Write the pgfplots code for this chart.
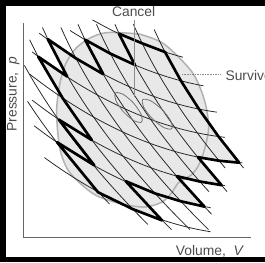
\documentclass[border=0pt]{standalone}
\usepackage{pgfplots}
\pgfplotsset{compat=1.18}
\usepackage{fontspec}
\setmainfont{Liberation Sans}
\begin{document}
\begin{tikzpicture}
\begin{axis}[
  scale only axis, width=265pt, height=260pt,
  xmin=0, xmax=265, ymin=0, ymax=260, y dir=reverse,
  hide axis, clip=true]
% grey fill: cycle and zigzag region
\addplot[fill=black!9, draw=none, smooth cycle] coordinates {
(138,34) (148,36) (165,43) (181,57) (195,73) (203,90) (208,107) (210,127) (206,147) (200,163) (193,172) (188,175) (180,180) (175,188) (165,198) (148,203) (125,200) (101,192) (85,180) (73,167) (66,150) (63,130) (62,107) (65,83) (71,63) (81,48) (95,38) (111,33)};
\addplot[fill=black!9, draw=none] coordinates {
(122.6,34) (145.9,43.7) (167.6,52) (183,79.9) (200.6,107.5) (219.7,134.3) (239.9,159.8) (220.3,157.9) (199.6,154.4) (222.7,181.7) (201.4,178.1) (179,172.9) (206,202.6) (182.6,197.3) (158,189.8) (129.2,177.8) (164.7,216) (136,205) (102.3,188.6) (62.3,139.8) (98.7,162.4) (64,117.8) (96.3,137.8) (67.9,97) (44,56.5) (72.2,75.8) (53.3,39.4) (80.7,58.1) (107.4,73.5) (89.6,39.9) (114.1,53.4) (138.2,64.5) (122.6,34)};
% cycle outline
\addplot[black!30, line width=1.5pt, smooth cycle] coordinates {
(138,34) (148,36) (165,43) (181,57) (195,73) (203,90) (208,107) (210,127) (206,147) (200,163) (193,172) (188,175) (180,180) (175,188) (165,198) (148,203) (125,200) (101,192) (85,180) (73,167) (66,150) (63,130) (62,107) (65,83) (71,63) (81,48) (95,38) (111,33)};
% isotherms
\pgfplotsset{thin line/.style={black!85, line width=0.75pt, smooth}}
\addplot[thin line] coordinates {(97,20.74) (110,27.8) (120,32.82) (130,37.5) (140,41.82) (150,45.8) (160,49.42) (170,52.7) (180,55.63) (185,56.96)};
\addplot[thin line] coordinates {(75,30.96) (80,34.12) (90,40.2) (100,45.92) (110,51.3) (120,56.32) (130,61) (140,65.32) (150,69.3) (160,72.92) (170,76.2) (180,79.13) (190,81.7) (200,83.93) (205,84.91)};
\addplot[thin line] coordinates {(45,33.61) (50,37.3) (60,44.42) (70,51.2) (80,57.62) (90,63.7) (100,69.42) (110,74.8) (120,79.82) (130,84.5) (140,88.82) (150,92.8) (160,96.42) (170,99.7) (180,102.63) (190,105.2) (200,107.43) (210,109.3) (218,110.55)};
\addplot[thin line] coordinates {(38,51.79) (50,60.8) (60,67.92) (70,74.7) (80,81.12) (90,87.2) (100,92.92) (110,98.3) (120,103.32) (130,108) (140,112.32) (150,116.3) (160,119.92) (170,123.2) (180,126.13) (190,128.7) (200,130.93) (210,132.8) (220,134.33) (226,135.07)};
\addplot[thin line] coordinates {(36,73.74) (40,76.82) (50,84.3) (60,91.42) (70,98.2) (80,104.62) (90,110.7) (100,116.42) (110,121.8) (120,126.82) (130,131.5) (140,135.82) (150,139.8) (160,143.42) (170,146.7) (180,149.63) (190,152.2) (200,154.43) (210,156.3) (220,157.83) (230,159) (243,160)};
\addplot[thin line] coordinates {(38,98.79) (50,107.8) (60,114.92) (70,121.7) (80,128.12) (90,134.2) (100,139.92) (110,145.3) (120,150.32) (130,155) (140,159.32) (150,163.3) (160,166.92) (170,170.2) (180,173.13) (190,175.7) (200,177.93) (210,179.8) (220,181.33) (226,182.07)};
\addplot[thin line] coordinates {(40,123.82) (50,131.3) (60,138.42) (70,145.2) (80,151.62) (90,157.7) (100,163.42) (110,168.8) (120,173.82) (130,178.5) (140,182.82) (150,186.8) (160,190.42) (170,193.7) (180,196.63) (190,199.2) (200,201.43) (212,203.63)};
\addplot[thin line] coordinates {(50,154.8) (60,161.92) (70,168.7) (80,175.12) (90,181.2) (100,186.92) (110,192.3) (120,197.32) (130,202) (140,206.32) (150,210.3) (160,213.92) (170,217.2) (180,220.13) (190,222.7) (200,224.93) (212,227.13)};
% adiabats
\addplot[thin line] coordinates {(157,30) (161.65,40) (166.58,50) (171.81,60) (177.32,70) (183.13,80) (189.22,90) (195.61,100) (202.28,110) (209.25,120) (216.5,130) (224.05,140) (231.88,150) (240.01,160) (244.18,165)};
\addplot[thin line] coordinates {(136.79,25) (139,30) (143.65,40) (148.58,50) (153.81,60) (159.32,70) (165.13,80) (171.22,90) (177.61,100) (184.28,110) (191.25,120) (198.5,130) (206.05,140) (213.88,150) (222.01,160) (226.2,165)};
\addplot[thin line] coordinates {(118.79,25) (121,30) (125.65,40) (130.58,50) (135.81,60) (141.32,70) (147.13,80) (153.22,90) (159.61,100) (166.28,110) (173.25,120) (180.5,130) (188.05,140) (195.88,150) (204.01,160) (212.42,170) (221.13,180) (228,188)};
\addplot[thin line] coordinates {(100.79,25) (103,30) (107.65,40) (112.58,50) (117.81,60) (123.32,70) (129.13,80) (135.22,90) (141.61,100) (148.28,110) (155.25,120) (162.5,130) (170.05,140) (177.88,150) (186.01,160) (194.42,170) (203.13,180) (210.4,188)};
\addplot[thin line] coordinates {(82.79,25) (85,30) (89.65,40) (94.58,50) (99.81,60) (105.32,70) (111.13,80) (117.22,90) (123.61,100) (130.28,110) (137.25,120) (144.5,130) (152.05,140) (159.88,150) (168.01,160) (176.42,170) (185.13,180) (194.12,190) (203.41,200) (212.98,210)};
\addplot[thin line] coordinates {(66.11,28) (71.65,40) (76.58,50) (81.81,60) (87.32,70) (93.13,80) (99.22,90) (105.61,100) (112.28,110) (119.25,120) (126.5,130) (134.05,140) (141.88,150) (150.01,160) (158.42,170) (167.13,180) (176.12,190) (185.41,200) (194.98,210) (204.85,220) (210,225)};
\addplot[thin line] coordinates {(48.11,28) (53.65,40) (58.58,50) (63.81,60) (69.32,70) (75.13,80) (81.22,90) (87.61,100) (94.28,110) (101.25,120) (108.5,130) (116.05,140) (123.88,150) (132.01,160) (140.42,170) (149.13,180) (158.12,190) (167.41,200) (176.98,210) (186.85,220) (191.88,225)};
\addplot[thin line] coordinates {(35.65,40) (40.58,50) (45.81,60) (51.32,70) (57.13,80) (63.22,90) (69.61,100) (76.28,110) (83.25,120) (90.5,130) (98.05,140) (105.88,150) (114.01,160) (122.42,170) (131.13,180) (140.12,190) (149.41,200) (158.98,210) (168.85,220) (173.88,225)};
\addplot[thin line] coordinates {(30.5,65) (33.32,70) (39.13,80) (45.22,90) (51.61,100) (58.28,110) (65.25,120) (72.5,130) (80.05,140) (87.88,150) (96.01,160) (104.42,170) (113.13,180) (122.12,190) (131.41,200) (140.98,210) (150.85,220)};
\addplot[thin line] coordinates {(33.61,100) (40.28,110) (47.25,120) (54.5,130) (62.05,140) (69.88,150) (78.01,160) (86.42,170) (95.13,180) (104.12,190) (113.41,200)};
% perimeter (survives)
\addplot[black, line width=2.6pt, line join=round] coordinates {
(122.6,34) (145.9,43.7) (167.6,52) (183,79.9) (200.6,107.5) (219.7,134.3) (239.9,159.8) (220.3,157.9) (199.6,154.4) (222.7,181.7) (201.4,178.1) (179,172.9) (206,202.6) (182.6,197.3) (158,189.8) (129.2,177.8) (164.7,216) (136,205) (102.3,188.6) (62.3,139.8) (98.7,162.4) (64,117.8) (96.3,137.8) (67.9,97) (44,56.5) (72.2,75.8) (53.3,39.4) (80.7,58.1) (107.4,73.5) (89.6,39.9) (114.1,53.4) (138.2,64.5) (122.6,34)};
% two cancelling cycles
\addplot[black!55, line width=0.8pt, smooth cycle] coordinates {
(144.71,120.12) (137.56,119.06) (127.17,110.35) (119.6,99.1) (119.29,91.88) (126.44,92.94) (136.83,101.65) (144.4,112.9)};
\addplot[black!55, line width=0.8pt, smooth cycle] coordinates {
(174.14,126.64) (166.75,125.75) (155.4,117.1) (146.75,105.75) (145.86,98.36) (153.25,99.25) (164.6,107.9) (173.25,119.25)};
% axes
\addplot[black!60, line width=1pt] coordinates {(29.5,24) (29.5,233) (251,233)};
% frame
\addplot[black, line width=5.5pt, line join=miter] coordinates {(280,4) (9.5,4) (9.5,254) (280,254)};
% leaders
\addplot[black!45, line width=0.7pt] coordinates {(137.5,21) (137.5,96)};
\addplot[black!45, line width=0.6pt, densely dotted] coordinates {(184,74) (222,74)};
\node[text=black!70, anchor=base, font=\fontsize{13.5}{14}\selectfont] at (axis cs:137,17) {Cancel};
\node[text=black!70, anchor=base west, font=\fontsize{13.5}{14}\selectfont] at (axis cs:223,80) {Survive};
\node[text=black!70, anchor=base east, font=\fontsize{13.5}{14}\selectfont] at (axis cs:248,250) {Volume,\ \ \textit{V}};
\node[text=black!70, anchor=base, rotate=90, font=\fontsize{13.5}{14}\selectfont] at (axis cs:23,93) {Pressure,\ \ \textit{p}};
\end{axis}
\end{tikzpicture}
\end{document}
